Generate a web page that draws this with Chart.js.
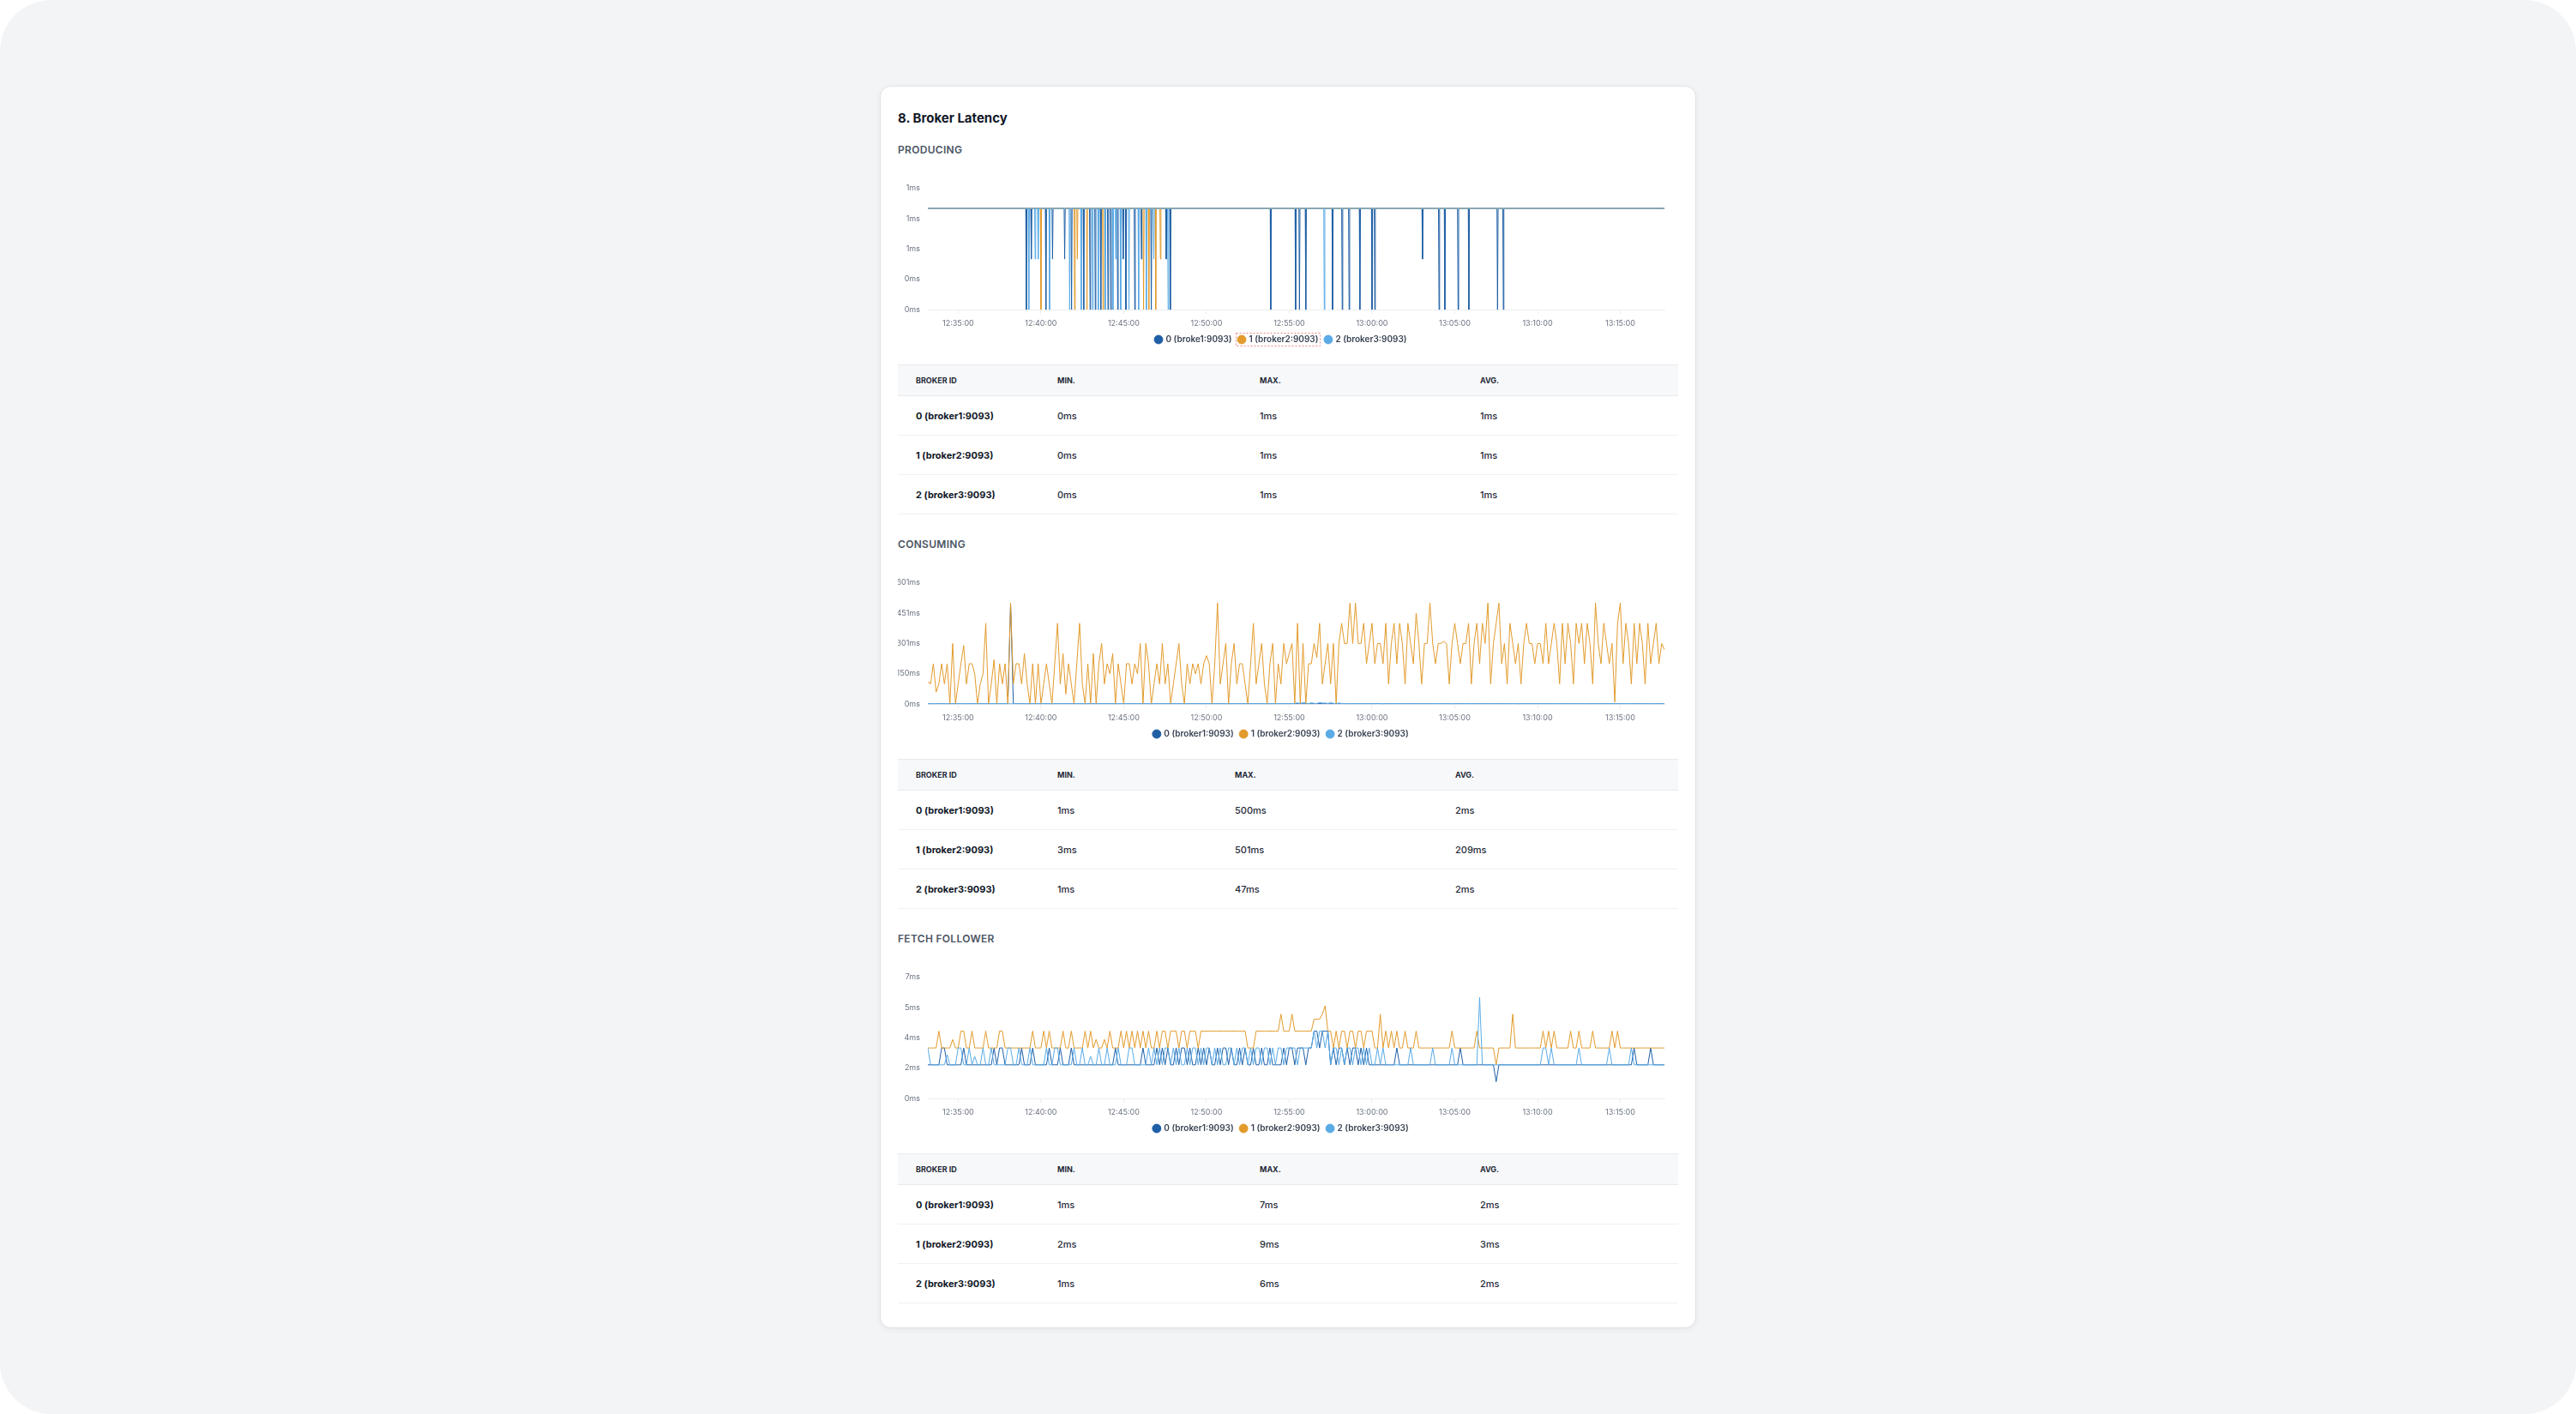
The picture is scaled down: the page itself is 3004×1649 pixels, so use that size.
<!DOCTYPE html>
<html>
<head>
<meta charset="utf-8">
<title>Broker Latency</title>
<script src="https://cdn.jsdelivr.net/npm/chart.js@4.4.1/dist/chart.umd.min.js"></script>
<style>
  html, body { margin: 0; padding: 0; background: #fff; }
  body { width: 3004px; height: 1649px; position: relative; font-family: Inter, "Noto Sans", sans-serif; }
  .frame { position: absolute; left: 0; top: 0; width: 3004px; height: 1649px; background: #f3f4f6; border-radius: 60px; }
  .card { position: absolute; left: 1027px; top: 101px; width: 950px; box-sizing: border-box; padding: 28px 20px 28px; background: #fff; border-radius: 12px; box-shadow: 0 0 0 1px rgba(17,24,39,0.05), 0 2px 8px rgba(17,24,39,0.06); }
  h2 { margin: 0; font-size: 15px; line-height: 18px; font-weight: 700; color: #111827; }
  h3 { margin: 28px 0 0; font-size: 12px; line-height: 14px; font-weight: 600; color: #4b5563; letter-spacing: 0.3px; }
  h2 + h3 { margin-top: 21px; }
  .chart { position: relative; height: 206px; margin-top: 23px; }
  table { width: 100%; border-collapse: collapse; margin-top: 14px; table-layout: fixed; }
  th { height: 35px; padding: 0 0 0 21px; background: #f7f8fa; border-top: 1px solid #e8eaee; border-bottom: 1px solid #e8eaee; font-size: 9px; font-weight: 700; color: #1f2937; text-align: left; }
  td { height: 45px; padding: 0 0 0 21px; border-bottom: 1px solid #f0f1f4; font-size: 11px; font-weight: 500; color: #1f2937; }
  td:first-child { font-weight: 700; color: #111827; }
</style>
</head>
<body>
<div class="frame"></div>
<div class="card">
  <h2>8. Broker Latency</h2>

  <h3>PRODUCING</h3>
  <div class="chart"><canvas id="chartProducing"></canvas></div>
  <table id="tableProducing"><colgroup><col style="width:165px"><col style="width:236px"><col style="width:257px"><col></colgroup></table>

  <h3>CONSUMING</h3>
  <div class="chart"><canvas id="chartConsuming"></canvas></div>
  <table id="tableConsuming"><colgroup><col style="width:165px"><col style="width:207px"><col style="width:257px"><col></colgroup></table>

  <h3>FETCH FOLLOWER</h3>
  <div class="chart"><canvas id="chartFetch"></canvas></div>
  <table id="tableFetch"><colgroup><col style="width:165px"><col style="width:236px"><col style="width:257px"><col></colgroup></table>
</div>

<script>
// time axis: one sample every 10 s, 12:33:10 -> 13:17:40 (seconds since midnight)
const START_SEC = 45190
const STEP_SEC = 10
const END_SEC = 47860
// 12:35:00 ... 13:15:00
const timeTicks = [45300, 45600, 45900, 46200, 46500, 46800, 47100, 47400, 47700]

const brokerLabels = ['0 (broker1:9093)', '1 (broker2:9093)', '2 (broker3:9093)']
const producingLabels = ['0 (broke1:9093)', '1 (broker2:9093)', '2 (broker3:9093)']
const tableHead = ['BROKER ID', 'MIN.', 'MAX.', 'AVG.']

// producing: latency sits at 1ms, these are the drops [time in s, ms]
const producingLevel = 1
const producingDips0 = [[45547,0],[45565,0.5],[45618,0],[45642,0.5],[45686,0.5],[45711,0],[45755,0],[45778,0],[45797,0],[45817,0],
  [45843,0],[45853,0],[45878,0],[45898,0.5],[45908,0],[45940,0],[45964,0.5],[46000,0],[46054,0.5],[46069,0],
  [46433,0],[46523,0],[46537,0],[46560,0],[46657,0],[46692,0],[46717,0],[46756,0],[46800,0],[46810,0],
  [46983,0.5],[47043,0],[47064,0],[47112,0],[47151,0],[47255,0],[47276,0]]
const producingDips1 = [[45600,0],[45722,0],[45732,0.5],[45767,0],[45825,0],[45972,0],[45991,0],[46016,0],[46033,0.5]]
const producingDips2 = [[45556,0],[45579,0.5],[45590,0.5],[45631,0],[45704,0],[45746,0],[45787,0],[45808,0],[45833,0],[45861,0],
  [45871,0.5],[45889,0],[45919,0],[45954,0],[45982,0],[46009,0.5],[46061,0],[46627,0]]

// consuming (ms)
const consuming0 = [
  2,2,1,2,2,2,2,1,2,2, 2,2,2,2,1,2,2,2,2,2,
  2,2,2,1,2,2,2,2,2,2, 500,2,2,2,2,2,1,2,2,2,
  2,2,2,2,2,1,2,2,2,2, 2,2,2,2,2,2,2,1,2,2,
  2,2,2,2,2,2,2,2,2,1, 2,2,2,2,2,2,2,2,2,2,
  2,1,2,2,2,2,2,2,2,2, 2,2,2,1,2,2,2,2,2,2,
  2,2,2,2,2,2,2,2,1,2, 2,2,2,2,2,2,2,2,2,2,
  2,2,2,1,2,2,2,2,2,2, 2,2,2,2,3,2,2,2,2,2,
  2,2,3,2,2,2,2,2,2,2, 2,2,1,2,2,2,2,2,2,2,
  2,2,2,2,2,1,2,2,2,2, 2,2,2,2,2,2,2,2,2,2,
  2,2,2,2,2,2,2,2,2,2, 1,2,2,2,2,2,2,2,2,2,
  2,2,2,2,2,2,2,2,2,2, 2,2,2,2,1,2,2,2,2,2,
  2,2,2,2,2,2,2,2,2,2, 2,2,2,2,2,2,2,2,1,2,
  2,2,2,2,2,2,2,2,2,2, 2,2,2,2,2,2,2,2,2,2,
  2,2,2,1,2,2,2,2]
const consuming1 = [
  110,100,200,60,100,200,100,200,0,300, 0,100,200,290,100,200,200,150,0,100,
  150,400,0,100,220,0,200,100,200,0, 501,100,200,200,100,250,100,0,200,0,
  200,0,100,200,100,0,200,400,100,250, 50,200,100,0,200,400,100,0,200,0,
  250,0,200,300,100,200,150,250,0,200, 100,0,200,200,100,200,150,300,0,300,
  200,0,100,200,100,300,100,200,0,100, 200,300,100,0,200,100,200,150,200,100,
  200,240,200,0,200,500,100,200,300,0, 200,300,100,200,200,100,0,200,400,100,
  200,300,100,0,200,300,0,200,100,300, 200,250,300,0,400,0,300,0,200,200,
  300,230,400,100,200,300,100,300,0,300, 400,300,300,500,300,500,300,300,400,200,
  300,400,200,300,300,200,400,100,300,400, 200,400,300,100,400,300,200,450,300,100,
  300,300,500,300,200,300,300,310,300,100, 300,400,300,200,300,300,400,100,300,400,
  200,400,300,500,100,300,400,500,200,300, 100,400,300,200,300,100,300,400,300,300,
  200,300,300,200,400,200,300,400,300,100, 400,200,400,300,100,400,300,400,200,400,
  300,100,500,300,200,400,300,200,300,10, 400,500,200,400,300,100,400,200,400,300,
  100,400,200,300,400,200,300,270]
const consuming2 = [
  2,2,2,2,2,2,2,2,2,2, 2,2,2,2,2,2,2,2,2,2,
  2,2,2,2,2,2,2,2,2,2, 2,2,2,2,2,2,2,2,2,2,
  2,2,2,2,2,2,2,2,2,2, 2,2,2,2,2,2,2,2,2,2,
  2,2,2,2,2,2,2,2,2,2, 2,2,2,2,2,2,2,2,2,2,
  2,2,2,2,2,2,2,2,2,2, 2,2,2,2,2,2,2,2,2,2,
  2,2,2,2,2,2,2,2,2,2, 2,2,2,2,2,2,2,2,2,2,
  2,2,2,2,2,2,2,2,2,2, 2,2,2,4,6,3,8,5,2,7,
  4,3,9,5,6,3,8,4,2,6, 3,2,2,2,3,2,2,2,2,2,
  2,2,2,4,2,2,2,2,2,3, 2,2,2,2,2,2,2,2,2,2,
  2,2,2,2,3,2,2,2,2,2, 2,2,2,2,2,2,4,2,2,2,
  2,2,2,2,2,2,2,2,2,2, 2,2,3,2,2,2,2,2,2,2,
  2,2,2,2,2,2,2,3,2,2, 2,2,2,2,2,2,2,2,2,2,
  2,2,2,2,2,2,2,2,2,2, 2,2,2,2,3,2,2,2,2,2,
  2,2,2,2,2,2,2,2]

// fetch follower (ms)
const fetch0 = [
  2,2,2,2,2,3,3,2,2,2, 2,2,2,3,2,2,2,2,2,2,
  2,2,2,2,3,2,3,3,2,2, 2,2,2,2,3,2,2,2,3,2,
  2,2,2,2,3,2,2,2,3,2, 2,2,3,2,2,2,2,2,2,2,
  2,2,2,2,2,2,2,2,3,2, 2,2,2,2,2,2,2,2,3,2,
  2,2,2,3,2,3,2,3,2,2, 3,2,3,3,2,3,2,2,3,2,
  3,2,3,2,2,3,2,3,3,2, 3,2,2,3,2,3,2,2,3,2,
  2,3,2,2,3,2,2,2,2,3, 2,3,3,2,3,3,3,2,3,3,
  4,4,3,4,4,4,2,3,2,3, 3,2,3,2,3,3,2,3,2,3,
  2,2,2,2,2,2,2,2,2,2, 3,2,2,2,2,2,2,2,2,2,
  2,2,2,2,2,2,2,2,2,2, 2,2,2,3,2,2,2,2,2,2,
  2,2,2,2,2,2,1,2,2,2, 2,2,2,2,2,2,2,2,2,2,
  2,2,2,2,2,2,2,2,2,2, 2,2,2,2,2,2,2,2,2,2,
  2,2,2,2,2,2,2,2,2,2, 2,2,2,2,2,2,3,2,2,2,
  2,2,3,2,2,2,2,2]
const fetch1 = [
  3,3,3,3,4,3,3,3,3,3.5, 3,3,4,4,3,3,4,3,3,3,
  3,4,3,3,3,3,4,4,3,3, 3,3,3,3,3,3,3,3,4,3,
  3,3,4,3,4,3,3,3,3,4, 3,3,4,3,3,3,3,4,3,4,
  3,3.5,3,3,3.5,3,4,3,3,3, 4,3,4,3,4,3,4,3,4,3,
  4,3,3,4,3,4,4,3,4,4, 4,3,4,4,3,4,4,4,3,4,
  4,4,4,4,4,4,4,4,4,4, 4,4,4,4,4,4,3,3,3,4,
  4,4,4,4,4,4,4,4,5,4, 4,4,5,4,4,4,4,4,4,4,
  4.7,4.7,4.7,5,5.5,4,4,3,4,3, 4,4,3,4,4,3,4,4,3,4,
  4,4,3,3,5,3,4,3,4,3, 4,3,3,4,3,3,3,4,3,3,
  3,3,3,3,3,3,3,3,3,3, 4,3,3,3,3,3,3,3,3,4,
  3,3,3,3,3,3,2,3,3,3, 3,3,5,3,3,3,3,3,3,3,
  3,3,3,4,3,4,3,4,3,3, 3,3,3,4,3,3,4,3,3,3,
  3,4,3,3,3,3,3,3,4,3, 4,3,3,3,3,3,3,3,3,3,
  3,3,3,3,3,3,3,3]
const fetch2 = [
  3,2,2,2,2,2,2,2.6,2,2, 2,3,3,2,2,3,2,2.5,2,2,
  3,2,2,3,2,2,2,2,2,3, 3,2,2,3,2,2,2,3,2,2,
  2,2,2,3,2,2,3,3,2,2, 2,2,2,3,2,2,3,2,2,2.5,
  2,2,3,2,2,3,2,2,2,3, 2,2,2,3,3,2,2,2,2,2,
  3,2,3,2,3,2,3,3,2,3, 2,3,2,2,3,2,3,3,2,3,
  2,3,3,2,3,2,3,2,2,3, 3,2,3,2,3,3,2,3,2,3,
  3,2,3,3,2,3,2,3,3,2, 3,3,3,3,2,3,3,3,3,3,
  4,3,4,4,3,4,2,3,3,2, 3,2,3,3,2,3,3,2,3,2,
  3,2,2,3,2,3,2,2,2,2, 2,2,2,2,2,3,2,2,2,2,
  2,2,2,3,2,2,2,2,2,2, 3,2,2,2,2,2,2,2,2,2,
  6,2,2,2,2,2,2,2,2,2, 2,2,2,2,2,2,2,2,2,2,
  2,2,2,3,3,2,3,2,2,2, 2,2,2,2,2,2,3,2,2,2,
  2,2,2,2,2,2,2,3,2,2, 2,2,2,2,2,3,2,2,2,2,
  2,2,2,2,2,2,2,2]

const producingStats = [['0ms','1ms','1ms'], ['0ms','1ms','1ms'], ['0ms','1ms','1ms']]
const consumingStats = [['1ms','500ms','2ms'], ['3ms','501ms','209ms'], ['1ms','47ms','2ms']]
const fetchStats = [['1ms','7ms','2ms'], ['2ms','9ms','3ms'], ['1ms','6ms','2ms']]

const brokerColors = ['#1f5fa6', '#e29b2c', '#5aabe6']

Chart.defaults.font.family = 'Inter, "Noto Sans", sans-serif'
Chart.defaults.color = '#6b7280'

function hms(sec)
{
    let h = Math.floor(sec / 3600)
    let m = Math.floor((sec % 3600) / 60)
    let s = Math.round(sec % 60)
    return [h, m, s].map(v => String(v).padStart(2, '0')).join(':')
}

function gridPoints(values)
{
    return values.map((v, i) => ({x: START_SEC + i * STEP_SEC, y: v}))
}

function dipPoints(dips)
{
    let pts = [{x: START_SEC, y: producingLevel}]
    dips.forEach(([t, v]) => {
        pts.push({x: t - 2, y: producingLevel}, {x: t, y: v}, {x: t + 2, y: producingLevel})
    })
    pts.push({x: END_SEC, y: producingLevel})
    return pts
}

// dotted outline seen around the second legend entry of the first chart
const legendFocus = {
    id: 'legendFocus',
    afterDraw(chart) {
        let box = chart.legend.legendHitBoxes[1]
        if (!box) return
        let ctx = chart.ctx
        ctx.save()
        ctx.setLineDash([2, 2])
        ctx.lineWidth = 1
        ctx.strokeStyle = '#e58a84'
        ctx.strokeRect(Math.round(box.left) - 2.5, Math.round(box.top) - 2.5, Math.round(box.width) + 5, Math.round(box.height) + 5)
        ctx.restore()
    }
}

function makeChart(id, labels, seriesPoints, plugins)
{
    let yMax = Math.max(...seriesPoints.flat().map(p => p.y)) * 1.2
    return new Chart(document.getElementById(id), {
        type: 'line',
        data: {
            datasets: seriesPoints.map((pts, i) => ({
                label: labels[i],
                data: pts,
                borderColor: brokerColors[i],
                backgroundColor: brokerColors[i],
                borderWidth: 1,
                borderJoinStyle: 'bevel',
                pointRadius: 0,
                pointHoverRadius: 0,
                tension: 0,
                order: 2 - i,
            }))
        },
        options: {
            responsive: true,
            maintainAspectRatio: false,
            animation: false,
            layout: { padding: { top: 6, right: 16, bottom: 0, left: 0 } },
            plugins: {
                tooltip: { enabled: false },
                legend: {
                    position: 'bottom',
                    labels: {
                        usePointStyle: true,
                        boxWidth: 7,
                        boxHeight: 7,
                        padding: 8,
                        color: '#374151',
                        font: { size: 10, weight: '600' },
                        sort: (a, b) => a.datasetIndex - b.datasetIndex,
                    },
                },
            },
            scales: {
                x: {
                    type: 'linear',
                    min: START_SEC,
                    max: END_SEC,
                    grid: { drawOnChartArea: false, color: '#eceef1', tickLength: 5 },
                    border: { color: '#eceef1' },
                    afterBuildTicks: scale => { scale.ticks = timeTicks.map(v => ({value: v})) },
                    afterFit: scale => { scale.height -= 6 },
                    ticks: {
                        autoSkip: false,
                        maxRotation: 0,
                        padding: 6,
                        font: { size: 9 },
                        color: '#6b7280',
                        callback: v => hms(v),
                    },
                },
                y: {
                    min: 0,
                    max: yMax,
                    grid: { display: false, drawTicks: false },
                    border: { display: false },
                    afterFit: scale => { scale.width = 35 },
                    ticks: {
                        count: 5,
                        padding: 9,
                        font: { size: 9 },
                        color: '#6b7280',
                        callback: v => Math.round(v) + 'ms',
                    },
                },
            },
        },
        plugins: plugins || [],
    })
}

function fillTable(id, stats)
{
    let table = document.getElementById(id)
    let thead = document.createElement('thead')
    let hr = document.createElement('tr')
    tableHead.forEach(h => {
        let th = document.createElement('th')
        th.textContent = h
        hr.appendChild(th)
    })
    thead.appendChild(hr)
    table.appendChild(thead)
    let tbody = document.createElement('tbody')
    stats.forEach((row, i) => {
        let tr = document.createElement('tr')
        ;[brokerLabels[i], ...row].forEach(c => {
            let td = document.createElement('td')
            td.textContent = c
            tr.appendChild(td)
        })
        tbody.appendChild(tr)
    })
    table.appendChild(tbody)
}

makeChart('chartProducing', producingLabels,
    [dipPoints(producingDips0), dipPoints(producingDips1), dipPoints(producingDips2)], [legendFocus])
makeChart('chartConsuming', brokerLabels,
    [gridPoints(consuming0), gridPoints(consuming1), gridPoints(consuming2)])
makeChart('chartFetch', brokerLabels,
    [gridPoints(fetch0), gridPoints(fetch1), gridPoints(fetch2)])

fillTable('tableProducing', producingStats)
fillTable('tableConsuming', consumingStats)
fillTable('tableFetch', fetchStats)
</script>
</body>
</html>
